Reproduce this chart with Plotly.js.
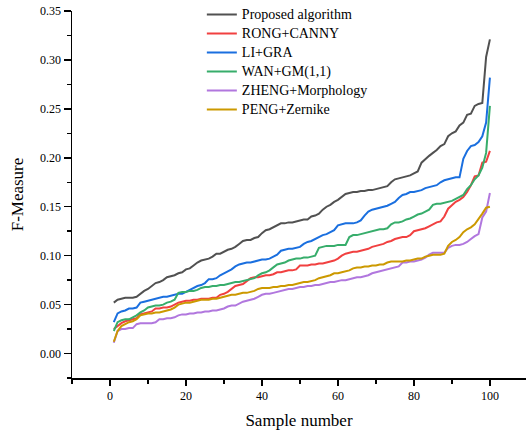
<!DOCTYPE html>
<html>
<head>
<meta charset="utf-8">
<script src="https://cdn.plot.ly/plotly-3.0.1.min.js"></script>
<style>html,body{margin:0;padding:0;background:#fff;}#chart{width:526px;height:430px;}</style>
</head>
<body>
<div id="chart"></div>
<script>
const seriesNames = ["Proposed algorithm", "RONG+CANNY", "LI+GRA", "WAN+GM(1,1)", "ZHENG+Morphology", "PENG+Zernike"];
const seriesColors = ["#515151", "#F14040", "#1A6FDF", "#37AD6B", "#B177DE", "#CC9900"];

const proposed = [0.052,0.055,0.056,0.057,0.057,0.057,0.058,0.061,0.064,0.066,
0.069,0.072,0.073,0.075,0.078,0.079,0.080,0.082,0.083,0.086,
0.087,0.090,0.093,0.095,0.096,0.097,0.099,0.102,0.102,0.104,
0.106,0.107,0.109,0.112,0.115,0.116,0.116,0.118,0.119,0.123,
0.126,0.127,0.129,0.131,0.133,0.133,0.134,0.134,0.135,0.136,
0.137,0.137,0.140,0.141,0.143,0.147,0.150,0.152,0.155,0.157,
0.160,0.163,0.164,0.165,0.165,0.166,0.166,0.167,0.167,0.168,
0.169,0.170,0.171,0.175,0.178,0.179,0.180,0.181,0.182,0.184,
0.186,0.195,0.199,0.202,0.205,0.208,0.212,0.214,0.222,0.225,
0.227,0.233,0.236,0.244,0.245,0.253,0.255,0.256,0.303,0.321];

const rongCanny = [0.025,0.028,0.031,0.033,0.034,0.035,0.036,0.040,0.041,0.042,
0.043,0.046,0.046,0.047,0.047,0.048,0.050,0.052,0.053,0.054,
0.054,0.055,0.055,0.056,0.056,0.056,0.057,0.057,0.060,0.061,
0.063,0.066,0.069,0.070,0.071,0.074,0.077,0.078,0.078,0.079,
0.080,0.080,0.081,0.083,0.083,0.084,0.085,0.085,0.086,0.090,
0.090,0.090,0.091,0.091,0.092,0.092,0.093,0.094,0.095,0.097,
0.100,0.102,0.103,0.104,0.104,0.105,0.106,0.107,0.109,0.110,
0.111,0.112,0.114,0.115,0.117,0.118,0.119,0.119,0.121,0.125,
0.126,0.127,0.128,0.130,0.132,0.134,0.135,0.140,0.148,0.152,
0.155,0.157,0.160,0.165,0.172,0.181,0.182,0.195,0.196,0.207];

const liGra = [0.032,0.041,0.043,0.044,0.046,0.046,0.047,0.052,0.053,0.054,
0.055,0.056,0.057,0.058,0.058,0.059,0.060,0.061,0.061,0.063,
0.065,0.067,0.069,0.070,0.072,0.076,0.076,0.077,0.080,0.082,
0.084,0.086,0.089,0.091,0.092,0.093,0.093,0.094,0.095,0.096,
0.096,0.097,0.099,0.101,0.105,0.106,0.107,0.107,0.108,0.109,
0.112,0.114,0.115,0.117,0.119,0.121,0.122,0.124,0.126,0.131,
0.132,0.133,0.133,0.133,0.134,0.136,0.141,0.145,0.147,0.148,
0.149,0.150,0.151,0.153,0.155,0.159,0.162,0.163,0.165,0.165,
0.166,0.167,0.169,0.170,0.171,0.172,0.175,0.177,0.178,0.179,
0.180,0.180,0.199,0.207,0.212,0.213,0.216,0.222,0.236,0.282];

const wanGm = [0.023,0.032,0.034,0.035,0.035,0.037,0.039,0.042,0.044,0.047,
0.048,0.049,0.049,0.050,0.052,0.053,0.055,0.062,0.063,0.063,
0.064,0.064,0.065,0.067,0.068,0.068,0.069,0.069,0.070,0.070,
0.071,0.072,0.073,0.073,0.074,0.075,0.076,0.077,0.080,0.082,
0.083,0.085,0.088,0.091,0.092,0.093,0.095,0.096,0.097,0.097,
0.098,0.098,0.099,0.100,0.108,0.109,0.110,0.110,0.110,0.111,
0.111,0.111,0.119,0.121,0.121,0.122,0.123,0.124,0.125,0.126,
0.127,0.127,0.128,0.132,0.134,0.134,0.135,0.137,0.138,0.140,
0.142,0.143,0.145,0.147,0.152,0.153,0.153,0.154,0.155,0.156,
0.158,0.160,0.162,0.168,0.172,0.178,0.182,0.190,0.205,0.253];

const zhengMorph = [0.011,0.023,0.025,0.025,0.026,0.026,0.030,0.031,0.031,0.031,
0.031,0.032,0.035,0.035,0.036,0.036,0.037,0.039,0.040,0.040,
0.041,0.041,0.042,0.042,0.043,0.043,0.044,0.044,0.045,0.046,
0.048,0.049,0.049,0.051,0.053,0.054,0.055,0.056,0.058,0.060,
0.061,0.061,0.062,0.063,0.064,0.065,0.066,0.066,0.067,0.068,
0.068,0.069,0.069,0.070,0.070,0.071,0.072,0.073,0.073,0.074,
0.075,0.075,0.076,0.077,0.078,0.078,0.079,0.080,0.082,0.083,
0.084,0.085,0.086,0.087,0.088,0.089,0.093,0.093,0.094,0.094,
0.095,0.096,0.098,0.101,0.103,0.103,0.103,0.103,0.108,0.110,
0.111,0.111,0.112,0.114,0.117,0.120,0.122,0.139,0.145,0.164];

const pengZernike = [0.012,0.023,0.028,0.030,0.032,0.033,0.035,0.039,0.040,0.041,
0.041,0.042,0.042,0.043,0.044,0.045,0.047,0.050,0.051,0.052,
0.052,0.053,0.054,0.055,0.055,0.055,0.056,0.056,0.057,0.058,
0.059,0.060,0.060,0.061,0.062,0.062,0.063,0.064,0.066,0.067,
0.067,0.067,0.068,0.068,0.069,0.069,0.070,0.070,0.071,0.072,
0.073,0.073,0.074,0.075,0.077,0.078,0.079,0.080,0.082,0.082,
0.083,0.084,0.085,0.087,0.088,0.088,0.089,0.089,0.090,0.090,
0.091,0.091,0.093,0.094,0.094,0.094,0.094,0.095,0.095,0.096,
0.097,0.097,0.099,0.100,0.101,0.101,0.101,0.102,0.110,0.114,
0.116,0.119,0.124,0.127,0.129,0.132,0.137,0.143,0.149,0.150];

const sampleNumbers = [];
for (let i = 1; i <= 100; i++) sampleNumbers.push(i);

const allSeries = [proposed, rongCanny, liGra, wanGm, zhengMorph, pengZernike];

const traces = allSeries.map((vals, k) => ({
  type: "scatter",
  mode: "lines",
  x: sampleNumbers,
  y: vals,
  name: '<span style="font-size:14px">' + seriesNames[k] + '</span>',
  line: {color: seriesColors[k], width: 2}
}));

const serif = "Liberation Serif, Times New Roman, serif";

const layout = {
  width: 526,
  height: 430,
  margin: {l: 72, r: 0, t: 10, b: 52},
  paper_bgcolor: "#fff",
  plot_bgcolor: "#fff",
  font: {family: serif, color: "#000", size: 12},
  showlegend: true,
  legend: {
    x: 0.286, y: 1.029, xanchor: "left", yanchor: "top",
    bgcolor: "rgba(0,0,0,0)",
    font: {family: serif, size: 11, color: "#000"},
    tracegroupgap: 0
  },
  xaxis: {
    range: [-10, 109.5],
    tick0: 0, dtick: 20,
    showline: true, linecolor: "#000", linewidth: 1.5,
    ticks: "outside", ticklen: 6, tickwidth: 1.5, tickcolor: "#000",
    minor: {dtick: 10, tick0: 0, ticks: "outside", ticklen: 4, tickwidth: 1.5, tickcolor: "#000"},
    showgrid: false, zeroline: false,
    tickfont: {family: serif, size: 12, color: "#000"},
    title: {text: "Sample number", font: {family: serif, size: 17, color: "#000"}, standoff: 15}
  },
  yaxis: {
    range: [-0.025, 0.35],
    tick0: 0, dtick: 0.05, tickformat: ".2f",
    showline: true, linecolor: "#000", linewidth: 1.5,
    ticks: "outside", ticklen: 7, tickwidth: 1.5, tickcolor: "#000",
    minor: {dtick: 0.025, tick0: 0, ticks: "outside", ticklen: 4, tickwidth: 1.5, tickcolor: "#000"},
    showgrid: false, zeroline: false,
    tickfont: {family: serif, size: 12, color: "#000"},
    title: {text: "F-Measure", font: {family: serif, size: 17, color: "#000"}, standoff: 12}
  }
};

Plotly.newPlot("chart", traces, layout, {displayModeBar: false, staticPlot: true});
</script>
</body>
</html>
